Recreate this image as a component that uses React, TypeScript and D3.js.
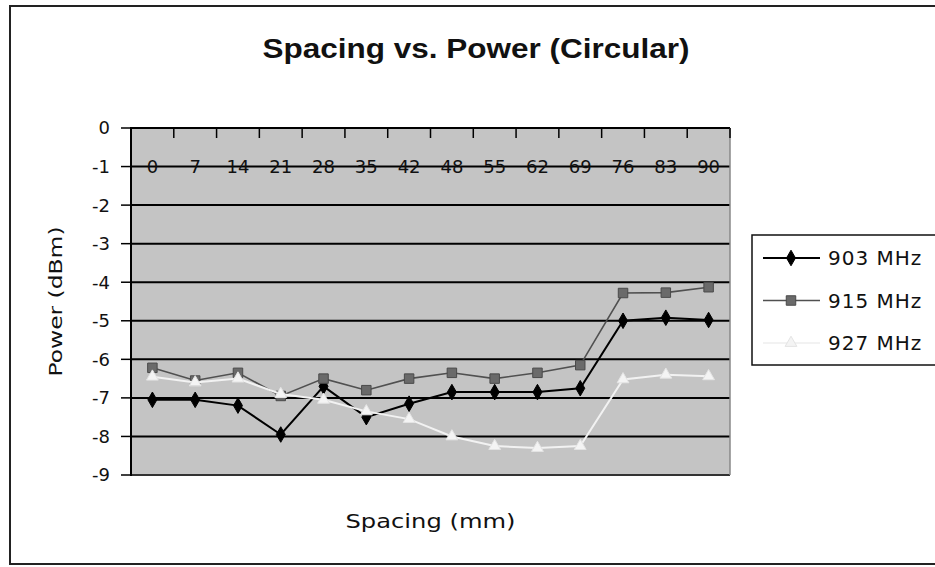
import * as d3 from "d3";

const spacing = ["0", "7", "14", "21", "28", "35", "42", "48", "55", "62", "69", "76", "83", "90"];
const mhz903 = [-7.05, -7.05, -7.2, -7.95, -6.7, -7.5, -7.15, -6.85, -6.85, -6.85, -6.75, -5.0, -4.92, -4.98];
const mhz915 = [-6.22, -6.55, -6.35, -6.95, -6.5, -6.8, -6.5, -6.35, -6.5, -6.35, -6.15, -4.28, -4.27, -4.13];
const mhz927 = [-6.45, -6.6, -6.5, -6.9, -7.05, -7.35, -7.55, -8.0, -8.25, -8.3, -8.25, -6.52, -6.4, -6.44];
const yTicks = [0, -1, -2, -3, -4, -5, -6, -7, -8, -9];

const width = 935;
const height = 567;
const left = 131;
const right = 730;
const top = 128;
const bottom = 475;
const font = "'DejaVu Sans', 'Liberation Sans', sans-serif";

export default function App() {
  const x = d3.scaleBand().domain(spacing).range([left, right]).padding(0);
  const y = d3.scaleLinear().domain([-9, 0]).range([bottom, top]);
  const cx = (i: number) => (x(spacing[i]) ?? 0) + x.bandwidth() / 2;

  const line = d3
    .line<number>()
    .x((_, i) => cx(i))
    .y((d) => y(d));

  const diamond = d3.symbol(d3.symbolDiamond, 70)() ?? "";
  const square = d3.symbol(d3.symbolSquare, 90)() ?? "";
  const triangle = d3.symbol(d3.symbolTriangle, 60)() ?? "";

  const series = [
    { name: "903 MHz", values: mhz903, stroke: "#000", width: 2, marker: diamond, fill: "#000", mstroke: "#000" },
    { name: "915 MHz", values: mhz915, stroke: "#505050", width: 1.6, marker: square, fill: "#6a6a6a", mstroke: "#4a4a4a" },
    { name: "927 MHz", values: mhz927, stroke: "#f2f2f2", width: 2, marker: triangle, fill: "#f4f4f4", mstroke: "#e4e4e4" },
  ];

  const boundaries = spacing.map((s) => x(s) ?? 0).concat([right]);

  return (
    <svg
      width={width}
      height={height}
      style={{ position: "absolute", left: 0, top: 0, background: "#fff" }}
    >
      {/* outer frame */}
      <rect x={10} y={6} width={940} height={558} fill="#fff" stroke="#222" strokeWidth={2} />

      <text
        x={476}
        y={58}
        textAnchor="middle"
        fontFamily="'Liberation Sans', Arial, sans-serif"
        fontWeight="bold"
        fontSize={27}
        textLength={427}
        lengthAdjust="spacingAndGlyphs"
        fill="#111"
      >
        Spacing vs. Power (Circular)
      </text>

      {/* plot area */}
      <rect x={left} y={top} width={right - left} height={bottom - top} fill="#c4c4c4" />

      {yTicks.map((t) => (
        <line
          key={`g${t}`}
          x1={left}
          x2={right}
          y1={y(t)}
          y2={y(t)}
          stroke={t === -9 ? "#333" : "#000"}
          strokeWidth={2}
        />
      ))}
      <line x1={right} x2={right} y1={top} y2={bottom} stroke="#888" strokeWidth={1.5} />
      <line x1={left} x2={left} y1={top - 1} y2={bottom + 1} stroke="#000" strokeWidth={2} />

      {/* y ticks */}
      {yTicks.map((t) => (
        <g key={`yt${t}`}>
          <line x1={left - 10} x2={left} y1={y(t)} y2={y(t)} stroke="#000" strokeWidth={1.5} />
          <text
            x={110}
            y={y(t)}
            dy="0.36em"
            textAnchor="end"
            fontFamily={font}
            fontSize={18}
            fill="#111"
          >
            {t === 0 ? "0" : `-${Math.abs(t)}`}
          </text>
        </g>
      ))}

      {/* category tick marks hanging from top */}
      {boundaries.map((b, i) => (
        <line key={`xt${i}`} x1={b} x2={b} y1={top} y2={top + 10} stroke="#000" strokeWidth={1.5} />
      ))}

      {/* category labels on the -1 line */}
      {spacing.map((s, i) => (
        <text
          key={`xl${s}`}
          x={cx(i)}
          y={y(-1)}
          dy="0.38em"
          textAnchor="middle"
          fontFamily={font}
          fontSize={18}
          fill="#111"
        >
          {s}
        </text>
      ))}

      {/* series */}
      {series.map((s) => (
        <g key={s.name}>
          <path d={line(s.values) ?? ""} fill="none" stroke={s.stroke} strokeWidth={s.width} />
          {s.values.map((v, i) => (
            <path
              key={i}
              d={s.marker}
              transform={`translate(${cx(i)},${y(v)})`}
              fill={s.fill}
              stroke={s.mstroke}
              strokeWidth={1}
            />
          ))}
        </g>
      ))}

      {/* axis titles */}
      <text
        transform={`translate(62,${(top + bottom) / 2}) rotate(-90)`}
        textAnchor="middle"
        fontFamily={font}
        fontSize={18}
        textLength={150}
        lengthAdjust="spacingAndGlyphs"
        fill="#111"
      >
        Power (dBm)
      </text>
      <text
        x={(left + right) / 2}
        y={528}
        textAnchor="middle"
        fontFamily={font}
        fontSize={19}
        textLength={170}
        lengthAdjust="spacingAndGlyphs"
        fill="#111"
      >
        Spacing (mm)
      </text>

      {/* legend */}
      <rect x={752} y={235} width={200} height={130} fill="#fff" stroke="#111" strokeWidth={1.5} />
      {series.map((s, i) => {
        const ly = 258 + i * 42.5;
        return (
          <g key={`lg${s.name}`}>
            <line x1={763} x2={820} y1={ly} y2={ly} stroke={s.stroke} strokeWidth={s.width} />
            <path d={s.marker} transform={`translate(791,${ly})`} fill={s.fill} stroke={s.mstroke} />
            <text
              x={828}
              y={ly}
              dy="0.36em"
              fontFamily={font}
              fontSize={20}
              letterSpacing={1}
              fill="#111"
            >
              {s.name}
            </text>
          </g>
        );
      })}
    </svg>
  );
}
